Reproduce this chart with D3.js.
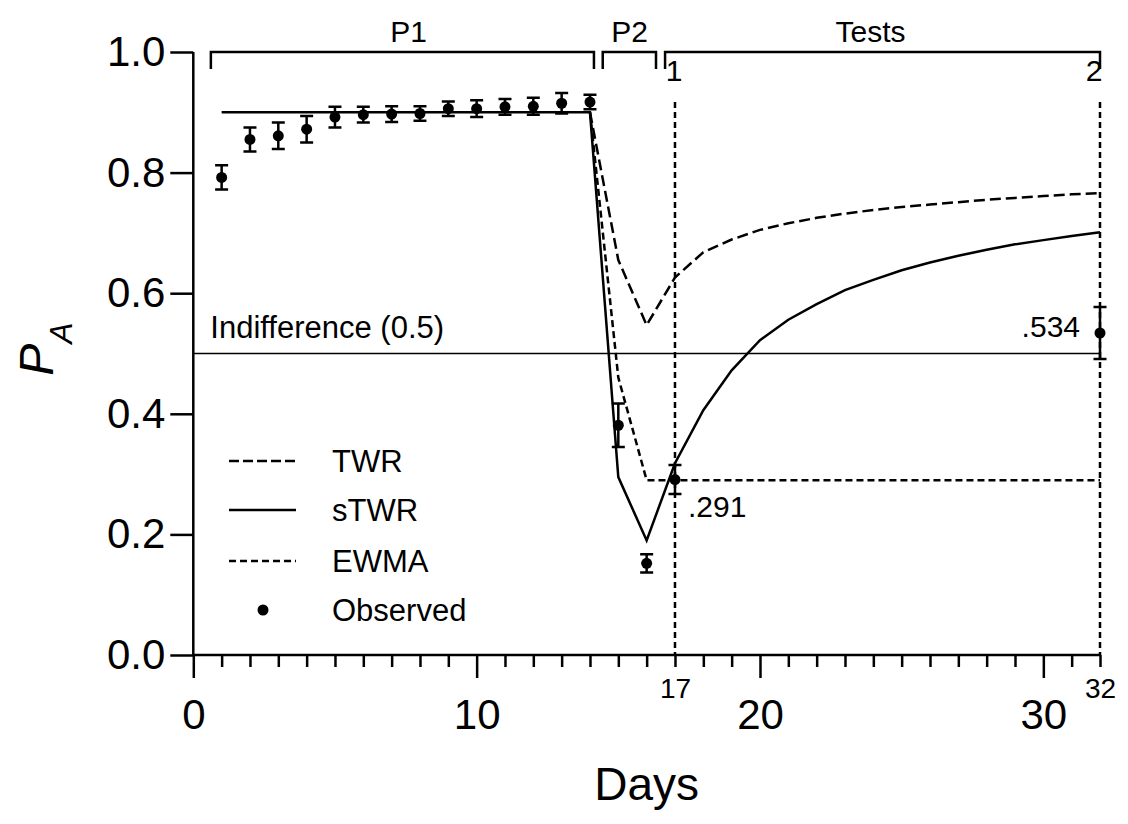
<!DOCTYPE html>
<html>
<head>
<meta charset="utf-8">
<script src="https://cdn.jsdelivr.net/npm/d3@7"></script>
<style>
body { margin: 0; background: #fff; }
text { font-family: "Liberation Sans", Arial, sans-serif; fill: #000; }
</style>
</head>
<body>
<div id="chart"></div>
<script>
// observed P(A) with error bars
var obsDays = [1,2,3,4,5,6,7,8,9,10,11,12,13,14,15,16,17,32]
var obsVals = [0.792,0.855,0.861,0.872,0.892,0.896,0.897,0.898,0.906,0.906,0.909,0.910,0.915,0.917,0.381,0.152,0.291,0.534]
var obsErr  = [0.020,0.020,0.022,0.022,0.017,0.013,0.013,0.012,0.012,0.014,0.013,0.014,0.017,0.012,0.036,0.015,0.024,0.043]

// model curves
var stwrDays = [1,14,15,16,17,18,19,20,21,22,23,24,25,26,27,28,29,30,31,32]
var stwrVals = [0.9,0.9,0.295,0.19,0.318,0.406,0.472,0.522,0.556,0.582,0.605,0.622,0.638,0.651,0.662,0.672,0.681,0.688,0.695,0.701]

var twrDays = [14,15,16,17,18,19,20,21,22,23,24,25,26,27,28,29,30,31,32]
var twrVals = [0.9,0.655,0.547,0.626,0.668,0.689,0.705,0.716,0.725,0.732,0.738,0.743,0.747,0.751,0.755,0.758,0.761,0.764,0.766]

var ewmaDays = [14,15,16,17,32]
var ewmaVals = [0.9,0.46,0.29,0.29,0.29]

// phases across the top
var phaseNames = ["P1","P2","Tests"]
var phaseStart = [0.62,14.45,16.65]
var phaseEnd   = [14.14,16.33,32]
var phaseLabelAt = [7.6,15.4,23.9]

var testDays = [17,32]
var testNames = ["1","2"]

var majorTicks = [0,10,20,30]
var yTicks = [0,0.2,0.4,0.6,0.8,1.0]
var indifference = 0.5

var legendNames = ["TWR","sTWR","EWMA","Observed"]

var width = 1128, height = 824

var svg = d3.select("#chart")
.append("svg")
.attr("width", width)
.attr("height", height)

var x = d3.scaleLinear().domain([0,32]).range([193.3,1100])
var y = d3.scaleLinear().domain([0,1]).range([655,52])

// y axis
var yAxis = svg.append("g")
.attr("transform", "translate(" + x(0) + ",0)")
.call(d3.axisLeft(y).tickValues(yTicks).tickSize(23).tickPadding(5).tickFormat(d3.format(".1f")))
yAxis.selectAll("line, path").attr("stroke", "#000").attr("stroke-width", 2.5)
yAxis.select(".domain").attr("d", "M0," + y(1) + "V" + y(0))
yAxis.selectAll("text").attr("font-size", 42).attr("font-family", "Liberation Sans, Arial, sans-serif").attr("fill", "#000")

// x axis: minor, major, special labels
var minor = d3.range(1,33).filter(function(d){ return majorTicks.indexOf(d) < 0 && testDays.indexOf(d) < 0 })
var xMinor = svg.append("g")
.attr("transform", "translate(0," + y(0) + ")")
.call(d3.axisBottom(x).tickValues(minor).tickSize(12).tickFormat(""))
xMinor.select(".domain").remove()

var xMajor = svg.append("g")
.attr("transform", "translate(0," + y(0) + ")")
.call(d3.axisBottom(x).tickValues(majorTicks).tickSize(23).tickPadding(21).tickFormat(d3.format("d")))
xMajor.select(".domain").remove()
xMajor.selectAll("text").attr("font-size", 42)

var xTest = svg.append("g")
.attr("transform", "translate(0," + y(0) + ")")
.call(d3.axisBottom(x).tickValues(testDays).tickSize(12).tickPadding(11).tickFormat(d3.format("d")))
xTest.select(".domain").remove()
xTest.selectAll("text").attr("font-size", 28)

svg.selectAll(".tick line").attr("stroke", "#000").attr("stroke-width", 2.5)
svg.selectAll(".tick text").attr("fill", "#000").attr("font-family", "Liberation Sans, Arial, sans-serif")

svg.append("line")
.attr("x1", x(0)).attr("x2", x(32))
.attr("y1", y(0)).attr("y2", y(0))
.attr("stroke", "#000").attr("stroke-width", 2.5)

// indifference line
svg.append("line")
.attr("x1", x(0)).attr("x2", x(32))
.attr("y1", y(indifference)).attr("y2", y(indifference))
.attr("stroke", "#000").attr("stroke-width", 1.3)
svg.append("text")
.attr("x", x(0.6)).attr("y", y(indifference) - 16)
.attr("font-size", 31)
.text("Indifference (0.5)")

// test markers
svg.selectAll(".testline")
.data(testDays)
.enter().append("line")
.attr("class", "testline")
.attr("x1", function(d){ return x(d) }).attr("x2", function(d){ return x(d) })
.attr("y1", y(0.917)).attr("y2", y(0))
.attr("stroke", "#000").attr("stroke-width", 2.5)
.attr("stroke-dasharray", "6,4")

svg.selectAll(".testname")
.data(testDays)
.enter().append("text")
.attr("class", "testname")
.attr("x", function(d, i){ return x(d) - (i ? 6 : 1) })
.attr("y", y(0.952))
.attr("text-anchor", "middle")
.attr("font-size", 30)
.text(function(d, i){ return testNames[i] })

// phase brackets
var legH = 0.028
phaseNames.forEach(function(name, i){
	var a = x(phaseStart[i]), b = x(phaseEnd[i])
	svg.append("path")
	.attr("d", "M" + a + "," + y(1 - legH) + "V" + y(1) + "H" + b + "V" + y(1 - legH))
	.attr("fill", "none")
	.attr("stroke", "#000")
	.attr("stroke-width", 2.5)
	svg.append("text")
	.attr("x", x(phaseLabelAt[i]))
	.attr("y", y(1) - 10)
	.attr("text-anchor", "middle")
	.attr("font-size", 30)
	.text(name)
})

var line = d3.line()
.x(function(d){ return x(d[0]) })
.y(function(d){ return y(d[1]) })

function pairs(days, vals) {
	return days.map(function(d, i){ return [d, vals[i]] })
}

svg.append("path")
.datum(pairs(ewmaDays, ewmaVals))
.attr("d", line)
.attr("fill", "none").attr("stroke", "#000").attr("stroke-width", 2.5)
.attr("stroke-dasharray", "7,4")

svg.append("path")
.datum(pairs(twrDays, twrVals))
.attr("d", line)
.attr("fill", "none").attr("stroke", "#000").attr("stroke-width", 2.5)
.attr("stroke-dasharray", "11,5")

svg.append("path")
.datum(pairs(stwrDays, stwrVals))
.attr("d", line)
.attr("fill", "none").attr("stroke", "#000").attr("stroke-width", 2.5)

// observed points
var obs = obsDays.map(function(d, i){ return {day: d, v: obsVals[i], e: obsErr[i]} })
var capW = 6.5
var pts = svg.selectAll(".obs")
.data(obs)
.enter().append("g")
.attr("class", "obs")

pts.append("path")
.attr("d", function(d){
	var cx = x(d.day), t = y(d.v + d.e), b = y(d.v - d.e)
	return "M" + cx + "," + t + "V" + b +
	"M" + (cx - capW) + "," + t + "H" + (cx + capW) +
	"M" + (cx - capW) + "," + b + "H" + (cx + capW)
})
.attr("stroke", "#000").attr("stroke-width", 2.5).attr("fill", "none")

pts.append("circle")
.attr("cx", function(d){ return x(d.day) })
.attr("cy", function(d){ return y(d.v) })
.attr("r", 5.5)
.attr("fill", "#000")

// value callouts
svg.append("text")
.attr("x", x(17) + 13).attr("y", y(0.291) + 37)
.attr("font-size", 30)
.text(".291")
svg.append("text")
.attr("x", x(32) - 20).attr("y", y(0.534) + 4)
.attr("text-anchor", "end")
.attr("font-size", 30)
.text(".534")

// legend
var legY = [461, 510, 561, 610]
var legDash = ["10,4", null, "7,4"]
legendNames.forEach(function(name, i){
	if (i < 3) {
		svg.append("line")
		.attr("x1", 229).attr("x2", 296)
		.attr("y1", legY[i]).attr("y2", legY[i])
		.attr("stroke", "#000").attr("stroke-width", 2.5)
		.attr("stroke-dasharray", legDash[i])
	} else {
		svg.append("circle")
		.attr("cx", 263).attr("cy", legY[i]).attr("r", 5.5).attr("fill", "#000")
	}
	svg.append("text")
	.attr("x", 332).attr("y", legY[i])
	.attr("dy", "0.36em")
	.attr("font-size", 31)
	.text(name)
})

// axis titles
svg.append("text")
.attr("x", x(16)).attr("y", 800)
.attr("text-anchor", "middle")
.attr("font-size", 46)
.text("Days")

var yt = svg.append("text")
.attr("transform", "translate(53,349) rotate(-90)")
.attr("text-anchor", "middle")
.attr("font-style", "italic")
yt.append("tspan").attr("font-size", 48).text("P")
yt.append("tspan").attr("font-size", 32).attr("dy", 19).text("A")
</script>
</body>
</html>
